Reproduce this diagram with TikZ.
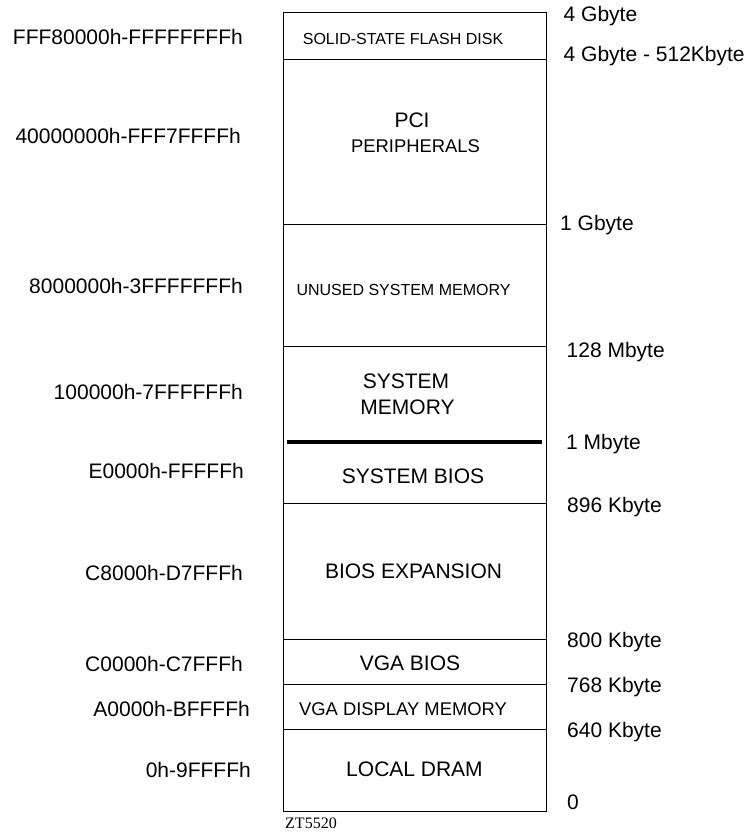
\documentclass[tikz,border=0pt]{standalone}
\usepackage{fontspec}
\setmainfont{Liberation Sans}
\newfontfamily\serifzt{Liberation Serif}
\begin{document}
\begin{tikzpicture}[x=1pt,y=-1pt,
  big/.style={font=\fontsize{21}{24}\selectfont,inner sep=0pt},
  mid/.style={font=\fontsize{18.4}{22}\selectfont,inner sep=0pt},
  sml/.style={font=\fontsize{16}{19}\selectfont,inner sep=0pt},
  lft/.style={big,anchor=base east},
  rgt/.style={big,anchor=base west},
  inb/.style={anchor=base},
  frame/.style={draw=black,line width=1pt},
  divider/.style={draw=black,line width=0.9pt},
  thick divider/.style={draw=black,line width=4.5pt}]
\useasboundingbox (0,0) rectangle (751,832);
% memory column
\draw[frame] (283,13) rectangle (546,811);
\foreach \yy in {59,224,346,503,639,684,729}
  \draw[divider] (283,\yy) -- (546,\yy);
\coordinate (tl) at (287,442);
\coordinate (tr) at (542,442);
\draw[thick divider] (tl) -- (tr);
% texts in the column
\node[sml,inb] (flash) at (403,45) {SOLID-STATE FLASH DISK};
\node[big,inb] (pci) at (412,128) {PCI};
\node[mid,inb] (periph) at (415.5,153) {PERIPHERALS};
\node[sml,inb] (unused) at (403.5,295) {UNUSED SYSTEM MEMORY};
\node[big,inb] (sys1) at (406,388) {SYSTEM};
\node[big,inb] (sys2) at (407.5,414) {MEMORY};
\node[big,inb] (sbios) at (413,483) {SYSTEM BIOS};
\node[big,inb] (bexp) at (413.5,578) {BIOS EXPANSION};
\node[big,inb] (vbios) at (410,670.5) {VGA BIOS};
\node[mid,inb] (vdisp) at (403,715.5) {VGA DISPLAY MEMORY};
\node[big,inb] (ldram) at (414.5,776) {LOCAL DRAM};
% left address labels
\node[lft] (a1) at (243,45) {FFF80000h-FFFFFFFFh};
\node[lft] (a2) at (241,143) {40000000h-FFF7FFFFh};
\node[lft] (a3) at (243,293) {8000000h-3FFFFFFFh};
\node[lft] (a4) at (243,399) {100000h-7FFFFFFh};
\node[lft] (a5) at (244,478) {E0000h-FFFFFh};
\node[lft] (a6) at (243,580) {C8000h-D7FFFh};
\node[lft] (a7) at (243,671) {C0000h-C7FFFh};
\node[lft] (a8) at (250,716) {A0000h-BFFFFh};
\node[lft] (a9) at (251,777) {0h-9FFFFh};
% right size labels
\node[rgt] (s1) at (563.5,22) {4 Gbyte};
\node[rgt] (s2) at (563.5,62) {4 Gbyte - 512Kbyte};
\node[rgt] (s3) at (560,230) {1 Gbyte};
\node[rgt] (s4) at (566.5,357) {128 Mbyte};
\node[rgt] (s5) at (566,449) {1 Mbyte};
\node[rgt] (s6) at (567,512) {896 Kbyte};
\node[rgt] (s7) at (567,647) {800 Kbyte};
\node[rgt] (s8) at (567,692) {768 Kbyte};
\node[rgt] (s9) at (567,737) {640 Kbyte};
\node[rgt] (s10) at (567,809) {0};
% figure id
\node[anchor=base west,inner sep=0pt,font=\serifzt\fontsize{16}{19}\selectfont] (zt) at (285,828) {ZT5520};
\end{tikzpicture}
\end{document}
